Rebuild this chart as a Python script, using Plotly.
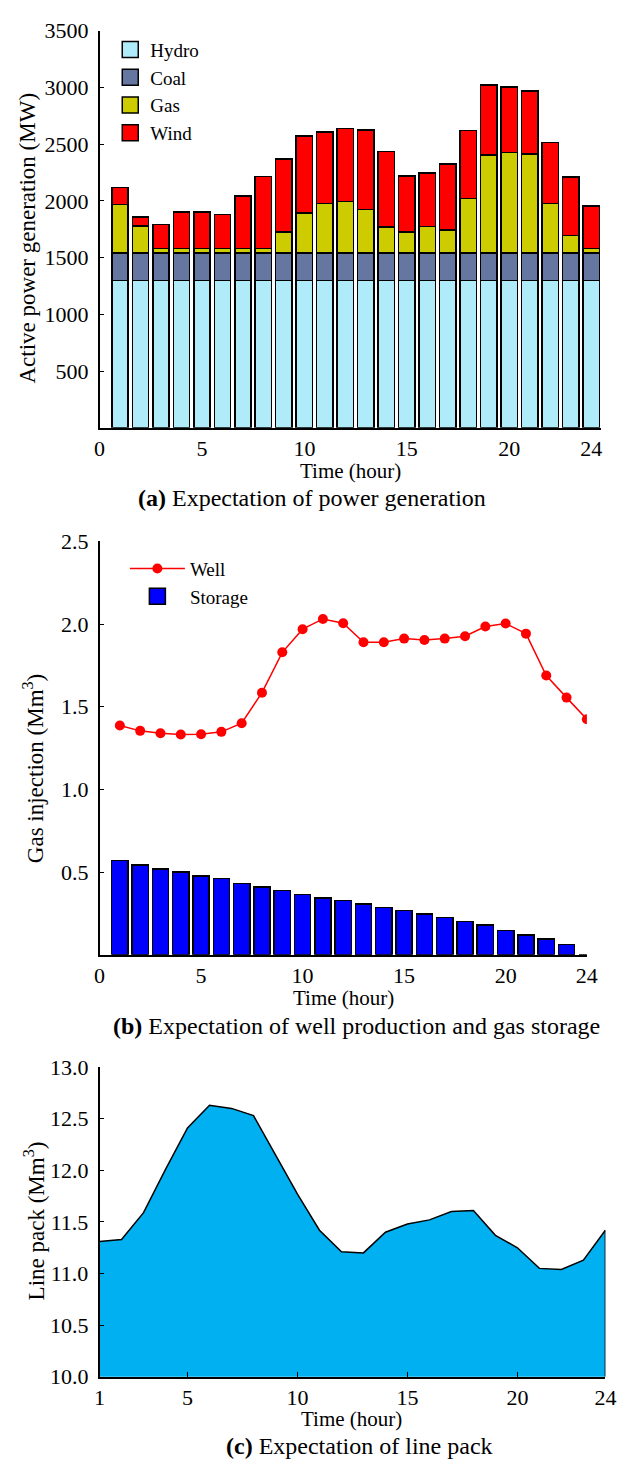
import plotly.graph_objects as go

# ---------------- data ----------------
hours = [1, 2, 3, 4, 5, 6, 7, 8, 9, 10, 11, 12, 13, 14, 15, 16, 17, 18, 19, 20, 21, 22, 23, 24]

hydro = [1300, 1300, 1300, 1300, 1300, 1300, 1300, 1300, 1300, 1300, 1300, 1300,
         1300, 1300, 1300, 1300, 1300, 1300, 1300, 1300, 1300, 1300, 1300, 1300]
coal = [240, 240, 240, 240, 240, 240, 240, 240, 240, 240, 240, 240,
        240, 240, 240, 240, 240, 240, 240, 240, 240, 240, 240, 240]
gas = [430, 240, 40, 40, 40, 40, 40, 40, 185, 355, 435, 455,
       385, 230, 185, 235, 205, 480, 865, 885, 875, 435, 155, 40]
wind = [150, 80, 210, 320, 320, 300, 465, 635, 645, 675, 630, 645,
        700, 665, 495, 470, 580, 600, 615, 580, 555, 540, 515, 375]

well = [1.386, 1.354, 1.340, 1.332, 1.334, 1.348, 1.400, 1.585, 1.829, 1.969, 2.031, 2.005,
        1.890, 1.890, 1.912, 1.904, 1.912, 1.926, 1.985, 2.003, 1.942, 1.689, 1.555, 1.424]
storage = [0.570, 0.543, 0.519, 0.501, 0.475, 0.461, 0.432, 0.410, 0.388, 0.364, 0.342, 0.328,
           0.307, 0.285, 0.269, 0.247, 0.225, 0.201, 0.180, 0.148, 0.118, 0.096, 0.061, 0.0]

linepack = [11.31, 11.33, 11.59, 12.01, 12.41, 12.63, 12.60, 12.53, 12.15, 11.77, 11.42, 11.21,
            11.20, 11.40, 11.48, 11.52, 11.60, 11.61, 11.37, 11.25, 11.05, 11.04, 11.13, 11.42]

xticks_ab = [0, 5, 10, 15, 20, 24]
xticks_c = [1, 5, 10, 15, 20, 24]
yticks_a = [500, 1000, 1500, 2000, 2500, 3000, 3500]
yticks_b = [0.5, 1.0, 1.5, 2.0, 2.5]
yticks_c = [10.0, 10.5, 11.0, 11.5, 12.0, 12.5, 13.0]

# ---------------- style ----------------
W, H = 631, 1475
FONT = "Liberation Serif, Times New Roman, serif"
TICK = 22
XLBL = 21
YLBL = 23
CAP = 24
LEG = 19


def px_x(p):
    return p / W


def px_y(p):
    return 1 - p / H


fig = go.Figure()

bar_line = dict(color="black", width=1.5)
gen_series = [("Hydro", hydro, "#B0EBFA"), ("Coal", coal, "#6577A0"),
              ("Gas", gas, "#CCCC00"), ("Wind", wind, "#FF0000")]
for name, vals, col in gen_series:
    fig.add_trace(go.Bar(x=hours, y=vals, name=name, width=0.8,
                         marker=dict(color=col, line=bar_line), showlegend=False,
                         xaxis="x", yaxis="y"))
# legend entries (larger square swatches, like the reference)
for name, vals, col in gen_series:
    fig.add_trace(go.Scatter(x=[None], y=[None], name=name, mode="markers",
                             marker=dict(symbol="square", size=16, color=col,
                                         line=dict(color="black", width=1.5)),
                             xaxis="x", yaxis="y", legend="legend"))

fig.add_trace(go.Scatter(x=hours, y=well, name="Well", mode="lines+markers",
                         line=dict(color="#FF0000", width=1.5),
                         marker=dict(color="#FF0000", size=10, symbol="circle"),
                         xaxis="x2", yaxis="y2", legend="legend2"))
fig.add_trace(go.Bar(x=hours, y=storage, name="Storage", width=0.8,
                     marker=dict(color="#0000FF", line=bar_line), showlegend=False,
                     xaxis="x2", yaxis="y2"))
fig.add_trace(go.Scatter(x=[None], y=[None], name="Storage", mode="markers",
                         marker=dict(symbol="square", size=16, color="#0000FF",
                                     line=dict(color="black", width=1.5)),
                         xaxis="x2", yaxis="y2", legend="legend2"))

fig.add_trace(go.Scatter(x=hours, y=linepack, mode="lines", fill="tozeroy",
                         fillcolor="#00B0F0", line=dict(color="black", width=1.5),
                         showlegend=False, xaxis="x3", yaxis="y3"))

# right edge of the area in (c)
fig.add_shape(type="line", xref="x3", yref="y3",
              x0=hours[-1], x1=hours[-1], y0=yticks_c[0], y1=linepack[-1],
              line=dict(color="black", width=1.5))

axis_common = dict(showline=True, linecolor="black", linewidth=1.5, showgrid=False,
                   zeroline=False, tickfont=dict(family=FONT, size=TICK, color="black"),
                   ticklen=5, tickcolor="black", tickwidth=1.2)

fig.update_layout(
    width=W, height=H, margin=dict(l=0, r=0, t=0, b=0),
    paper_bgcolor="white", plot_bgcolor="white",
    barmode="stack", bargap=0.2,
    font=dict(family=FONT, color="black"),
    xaxis=dict(domain=[px_x(97), px_x(612)], anchor="y", range=[0, 24.5],
               tickvals=xticks_ab, ticks="", **axis_common),
    yaxis=dict(domain=[px_y(423), px_y(19)], anchor="x", range=[0, 3500],
               tickvals=yticks_a, ticks="inside", ticklabelstandoff=5, **axis_common),
    xaxis2=dict(domain=[px_x(97), px_x(597)], anchor="y2", range=[0, 24],
                tickvals=xticks_ab, ticks="", **axis_common),
    yaxis2=dict(domain=[px_y(959), px_y(538.5)], anchor="x2", range=[0, 2.5],
                tickvals=yticks_b, tickformat=".1f", ticks="inside", ticklabelstandoff=5,
                **axis_common),
    xaxis3=dict(domain=[px_x(97), px_x(616)], anchor="y3", range=[1, 24],
                tickvals=xticks_c, ticks="inside", **axis_common),
    yaxis3=dict(domain=[px_y(1388.3), px_y(1073.3)], anchor="x3", range=[10, 13],
                tickvals=yticks_c, tickformat=".1f", ticks="inside", ticklabelstandoff=5,
                **axis_common),
    legend=dict(x=px_x(108), y=px_y(19), xanchor="left", yanchor="top",
                bgcolor="rgba(0,0,0,0)", font=dict(family=FONT, size=LEG),
                traceorder="normal", tracegroupgap=0, itemsizing="trace"),
    legend2=dict(x=px_x(123), y=px_y(547), xanchor="left", yanchor="top",
                 bgcolor="rgba(0,0,0,0)", font=dict(family=FONT, size=LEG),
                 traceorder="normal", itemwidth=55, itemsizing="trace"),
)

annos = [
    # x axis titles
    dict(x=354, y=467, text="Time (hour)", size=XLBL, angle=0),
    dict(x=347, y=1003, text="Time (hour)", size=XLBL, angle=0),
    dict(x=356, y=1431, text="Time (hour)", size=XLBL, angle=0),
    # y axis titles
    dict(x=23, y=230, text="Active power generation (MW)", size=YLBL, angle=-90),
    dict(x=30, y=770, text="Gas injection (Mm<sup>3</sup>)", size=YLBL, angle=-90),
    dict(x=30, y=1230, text="Line pack (Mm<sup>3</sup>)", size=YLBL, angle=-90),
    # captions
    dict(x=315, y=494, text="<b>(a)</b> Expectation of power generation", size=CAP, angle=0),
    dict(x=361, y=1031, text="<b>(b)</b> Expectation of well production and gas storage", size=CAP, angle=0),
    dict(x=364, y=1459, text="<b>(c)</b> Expectation of line pack", size=CAP, angle=0),
]
for a in annos:
    fig.add_annotation(x=px_x(a["x"]), y=px_y(a["y"]), xref="paper", yref="paper", text=a["text"],
                       showarrow=False, textangle=a["angle"], xanchor="center", yanchor="middle",
                       font=dict(family=FONT, size=a["size"], color="black"))

fig.write_html("out.html")
